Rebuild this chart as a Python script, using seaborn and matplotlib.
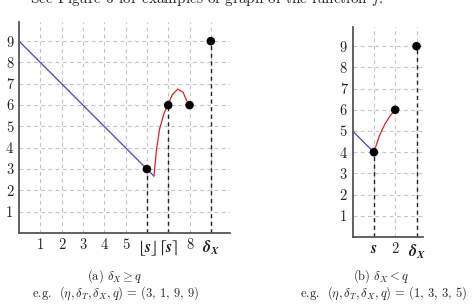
import matplotlib
matplotlib.use("Agg")
import matplotlib.pyplot as plt
import seaborn as sns

# ---- data ----
# panel (a): delta_X >= q
a_blue_x = [0, 6.33]
a_blue_y = [9, 2.67]
a_red_x = [6.33, 6.45, 6.6, 6.8, 7.0, 7.2, 7.45, 7.7, 7.87]
a_red_y = [2.67, 3.9, 4.9, 5.6, 6.05, 6.5, 6.75, 6.6, 6.2]
a_dot_x = [6, 7, 8, 9]
a_dot_y = [3, 6, 6, 9]
a_drop_x = [6, 7, 9]
a_drop_y = [3, 6, 9]
a_ticks = [1, 2, 3, 4, 5, 6, 7, 8, 9]
a_labels = ['1', '2', '3', '4', '5', r'$\lfloor \mathbfit{s} \rfloor$',
            r'$\lceil \mathbfit{s} \rceil$', '8', r'$\mathbfit{\delta}_{\mathbfit{X}}$']

# panel (b): delta_X < q
b_blue_x = [0, 1]
b_blue_y = [5, 4]
b_red_x = [1, 1.25, 1.5, 1.75, 2]
b_red_y = [4, 4.75, 5.3, 5.7, 6]
b_dot_x = [1, 2, 3]
b_dot_y = [4, 6, 9]
b_drop_x = [1, 3]
b_drop_y = [4, 9]
b_ticks = [1, 2, 3]
b_labels = [r'$\mathbfit{s}$', '2', r'$\mathbfit{\delta}_{\mathbfit{X}}$']

y_ticks = [1, 2, 3, 4, 5, 6, 7, 8, 9]

sns.set_style("white")
plt.rcParams['font.family'] = ['cmr10', 'DejaVu Serif']
plt.rcParams['mathtext.fontset'] = 'cm'
plt.rcParams['axes.unicode_minus'] = False

fig = plt.figure(figsize=(4.72, 3.05), dpi=100)
ax_a = fig.add_axes([0.0403, 0.236, 0.447, 0.692])
ax_b = fig.add_axes([0.747, 0.223, 0.149, 0.688])


def draw_panel(ax, blue_x, blue_y, red_x, red_y, dot_x, dot_y, drop_x, drop_y,
               xmax, ticks, labels):
    ax.set_xlim(0, xmax)
    ax.set_ylim(0, 9.9)
    # dashed grid
    for t in ticks:
        ax.axvline(t, color='#c4c4c4', lw=0.8, ls=(0, (3.5, 3)), zorder=0)
    for t in y_ticks:
        ax.axhline(t, color='#c4c4c4', lw=0.8, ls=(0, (3.5, 3)), zorder=0)
    # black dashed drop lines
    for x, y in zip(drop_x, drop_y):
        ax.plot([x, x], [0, y], color='#222222', lw=1.0, ls=(0, (3, 2.5)), zorder=1)
    sns.lineplot(x=blue_x, y=blue_y, ax=ax, color='#4040e0', lw=0.9, sort=False, zorder=2)
    sns.lineplot(x=red_x, y=red_y, ax=ax, color='#e02020', lw=0.9, sort=False, zorder=2)
    sns.scatterplot(x=dot_x, y=dot_y, ax=ax, color='black', s=38, edgecolor='none', zorder=3)
    ax.set_xticks(ticks)
    ax.set_xticklabels(labels)
    ax.set_yticks(y_ticks)
    ax.set_yticklabels([str(t) for t in y_ticks])
    ax.tick_params(direction='in', length=3, width=0.8, color='#555555',
                   labelsize=10.5, pad=4, labelcolor='#222222')
    for lab in ax.get_xticklabels():
        if 'mathbfit' in lab.get_text():
            lab.set_math_fontfamily('stix')
            lab.set_fontsize(11.5)
    for side in ['top', 'right']:
        ax.spines[side].set_visible(False)
    for side in ['left', 'bottom']:
        ax.spines[side].set_color('#555555')
        ax.spines[side].set_linewidth(1.3)
    ax.set_xlabel('')
    ax.set_ylabel('')


draw_panel(ax_a, a_blue_x, a_blue_y, a_red_x, a_red_y, a_dot_x, a_dot_y,
           a_drop_x, a_drop_y, 9.9, a_ticks, a_labels)
draw_panel(ax_b, b_blue_x, b_blue_y, b_red_x, b_red_y, b_dot_x, b_dot_y,
           b_drop_x, b_drop_y, 3.3, b_ticks, b_labels)

# captions
fig.text(0.244, 1 - 276 / 305, r'(a) $\delta_X \geq q$', ha='center', va='center', fontsize=9)
fig.text(0.244, 1 - 293.5 / 305, r'e.g.  $(\eta, \delta_T, \delta_X, q)$ = (3, 1, 9, 9)',
         ha='center', va='center', fontsize=9)
fig.text(0.808, 1 - 276 / 305, r'(b) $\delta_X < q$', ha='center', va='center', fontsize=9)
fig.text(0.812, 1 - 293.5 / 305, r'e.g.  $(\eta, \delta_T, \delta_X, q)$ = (1, 3, 3, 5)',
         ha='center', va='center', fontsize=9)

# header line cut off at the top of the crop
fig.text(0.064, 1 - 3 / 305, r'See Figure 6 for examples of graph of the function $f$.',
         ha='left', va='baseline', fontsize=11)

fig.savefig('out.png', dpi=100)
